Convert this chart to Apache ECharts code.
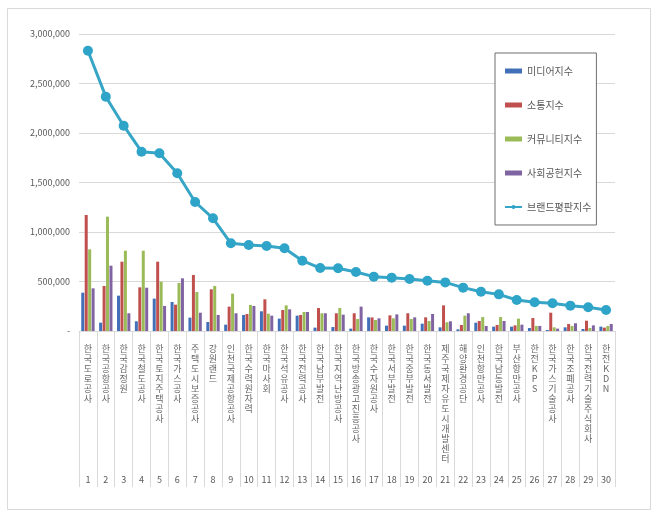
<!DOCTYPE html>
<html>
<head>
<meta charset="utf-8">
<script src="https://cdn.jsdelivr.net/npm/echarts@6/dist/echarts.min.js"></script>
<style>
html, body { margin: 0; padding: 0; background: #fff; }
#chart { width: 660px; height: 519px; }
</style>
</head>
<body>
<div id="chart"></div>
<script>
var categories = ['한국도로공사', '한국공항공사', '한국감정원', '한국철도공사', '한국토지주택공사', '한국가스공사',
    '주택도시보증공사', '강원랜드', '인천국제공항공사', '한국수력원자력', '한국마사회', '한국석유공사',
    '한국전력공사', '한국남부발전', '한국지역난방공사', '한국방송광고진흥공사', '한국수자원공사', '한국서부발전',
    '한국중부발전', '한국동서발전', '제주국제자유도시개발센터', '해양환경공단', '인천항만공사', '한국남동발전',
    '부산항만공사', '한전KPS', '한국가스기술공사', '한국조폐공사', '한국전력기술주식회사', '한전KDN'];
var ranks = ['1', '2', '3', '4', '5', '6', '7', '8', '9', '10', '11', '12', '13', '14', '15',
    '16', '17', '18', '19', '20', '21', '22', '23', '24', '25', '26', '27', '28', '29', '30'];
var yTicks = [0, 500000, 1000000, 1500000, 2000000, 2500000, 3000000];

var media = [387000, 84000, 357000, 98000, 327000, 293000, 135000, 91000, 64000, 162000,
    199000, 125000, 155000, 34000, 40000, 24000, 138000, 54000, 54000, 74000,
    37000, 17000, 84000, 44000, 44000, 30000, 10000, 37000, 20000, 44000];
var comm = [1172000, 455000, 700000, 441000, 700000, 266000, 566000, 421000, 246000, 172000,
    320000, 212000, 162000, 232000, 179000, 179000, 137000, 158000, 179000, 138000,
    259000, 61000, 101000, 61000, 57000, 131000, 185000, 71000, 104000, 34000];
var community = [825000, 1155000, 811000, 811000, 498000, 485000, 394000, 455000, 377000, 263000,
    175000, 259000, 192000, 179000, 232000, 121000, 111000, 128000, 121000, 101000,
    88000, 155000, 141000, 141000, 125000, 51000, 37000, 51000, 30000, 51000];
var social = [431000, 660000, 179000, 437000, 253000, 532000, 185000, 162000, 179000, 253000,
    155000, 219000, 192000, 179000, 165000, 246000, 128000, 168000, 138000, 172000,
    98000, 179000, 51000, 101000, 64000, 51000, 24000, 78000, 57000, 71000];
var brand = [2831000, 2367000, 2074000, 1811000, 1795000, 1593000, 1303000, 1138000, 886000, 869000,
    859000, 835000, 710000, 636000, 633000, 596000, 549000, 539000, 525000, 508000,
    491000, 438000, 397000, 370000, 313000, 290000, 280000, 256000, 239000, 212000];

var textColor = '#595959';
var lineColor = '#d9d9d9';
var fontFamily = '"Noto Sans CJK KR", "Noto Sans", sans-serif';

var chart = echarts.init(document.getElementById('chart'));

function barSeries(name, data, color) {
    return {
        name: name,
        type: 'bar',
        data: data,
        barWidth: 3,
        barGap: '15%',
        itemStyle: { color: color },
        emphasis: { disabled: true }
    };
}

var option = {
    animation: false,
    textStyle: { fontFamily: fontFamily },
    graphic: [{
        type: 'rect',
        shape: { x: 7.5, y: 8.5, width: 643, height: 501 },
        style: { fill: 'none', stroke: lineColor, lineWidth: 1 },
        z: -1
    }],
    grid: { left: 79, right: 45, top: 34, bottom: 188 },
    legend: {
        orient: 'vertical',
        left: 495,
        top: 53,
        padding: [13, 5, 13, 9],
        itemGap: 24,
        itemWidth: 17,
        itemHeight: 5,
        backgroundColor: '#fff',
        borderColor: '#6e6e6e',
        borderWidth: 1,
        textStyle: { color: textColor, fontSize: 10, fontFamily: fontFamily },
        data: [
            { name: '미디어지수', icon: 'rect' },
            { name: '소통지수', icon: 'rect' },
            { name: '커뮤니티지수', icon: 'rect' },
            { name: '사회공헌지수', icon: 'rect' },
            { name: '브랜드평판지수' }
        ]
    },
    xAxis: [{
        type: 'category',
        data: categories,
        position: 'bottom',
        axisLine: { lineStyle: { color: lineColor } },
        axisTick: { show: true, interval: 0, length: 156, lineStyle: { color: lineColor } },
        axisLabel: {
            interval: 0,
            margin: 13,
            color: '#666',
            fontSize: 9,
            lineHeight: 10,
            fontFamily: fontFamily,
            formatter: function (v) { return v.split('').join('\n'); }
        }
    }, {
        type: 'category',
        data: ranks,
        position: 'bottom',
        offset: 140,
        axisLine: { show: false },
        axisTick: { show: false },
        axisLabel: { interval: 0, margin: 4, color: textColor, fontSize: 9, fontFamily: fontFamily }
    }],
    yAxis: {
        type: 'value',
        min: yTicks[0],
        max: yTicks[yTicks.length - 1],
        interval: yTicks[1] - yTicks[0],
        axisLine: { show: false },
        axisTick: { show: false },
        splitLine: { lineStyle: { color: lineColor } },
        axisLabel: {
            margin: 9,
            color: textColor,
            fontSize: 9,
            fontFamily: fontFamily,
            formatter: function (v) { return v === 0 ? '-' : v.toLocaleString('en-US'); }
        }
    },
    series: [
        barSeries('미디어지수', media, '#4170b9'),
        barSeries('소통지수', comm, '#c0504d'),
        barSeries('커뮤니티지수', community, '#9bbb59'),
        barSeries('사회공헌지수', social, '#8064a2'),
        {
            name: '브랜드평판지수',
            type: 'line',
            data: brand,
            symbol: 'circle',
            symbolSize: 10,
            lineStyle: { color: '#36a5c6', width: 3 },
            itemStyle: { color: '#2fa4c9' },
            emphasis: { disabled: true },
            z: 3
        }
    ]
};
chart.setOption(option);
</script>
</body>
</html>
